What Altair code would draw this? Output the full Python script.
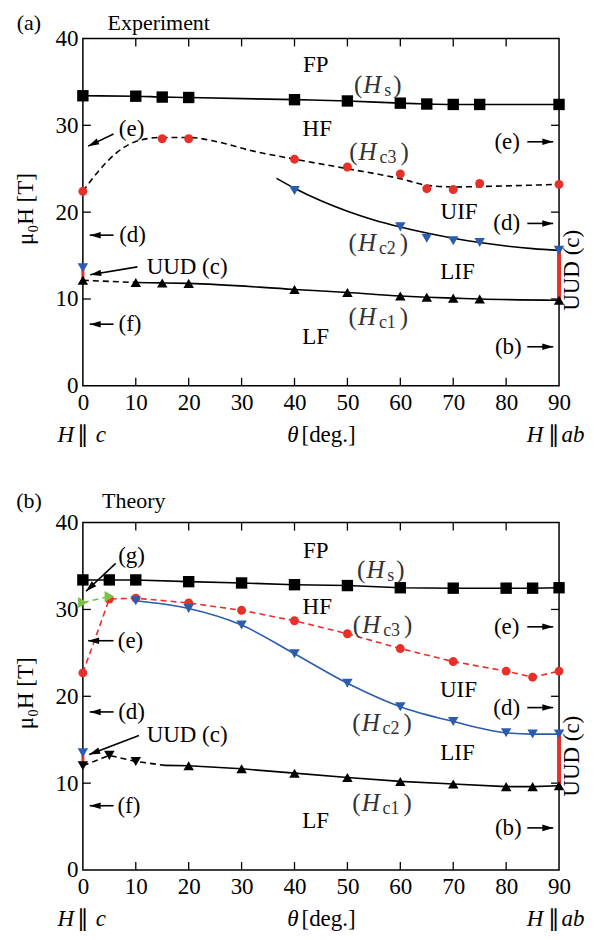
import math
import altair as alt
import pandas as pd

W, HGT = 477, 348
FONT = "Liberation Serif"
FS = 23
RED = "#e8302a"
BLUE = "#2b5caf"
GREEN = "#7cc04a"

# ---------------- data: panel (a) Experiment ----------------
a_hs_t = [0, 10, 15, 20, 40, 50, 60, 65, 70, 75, 90]
a_hs_h = [33.4, 33.35, 33.25, 33.2, 32.95, 32.8, 32.55, 32.45, 32.4, 32.4, 32.4]
a_hc3_t = [0, 15, 20, 40, 50, 60, 65, 70, 75, 90]
a_hc3_h = [22.4, 28.45, 28.45, 26.1, 25.2, 24.4, 22.7, 22.6, 23.3, 23.2]
a_hc3fit_t = [0, 2.8, 6.5, 10.9, 15, 20, 25.4, 31.7, 40, 50, 60, 65, 70, 75, 90]
a_hc3fit_h = [22.4, 24.6, 26.9, 28.3, 28.6, 28.6, 28.1, 27.1, 26.1, 25.0, 23.85, 23.1, 22.9, 22.95, 23.2]
a_hc2_t = [40, 60, 65, 70, 75, 90]
a_hc2_h = [22.5, 18.3, 17.0, 16.7, 16.5, 15.6]
a_hc2fit_t = [36.6, 40, 45, 50, 55, 60, 65, 70, 75, 80, 85, 90]
a_hc2fit_h = [23.9, 22.75, 21.3, 20.1, 19.1, 18.3, 17.6, 17.0, 16.5, 16.1, 15.8, 15.6]
a_hc1_t = [0, 10, 15, 20, 40, 50, 60, 65, 70, 75, 90]
a_hc1_h = [12.15, 11.9, 11.85, 11.8, 11.1, 10.75, 10.35, 10.2, 10.1, 10.0, 9.85]
a_uud0 = [12.15, 13.6]
a_uud90 = [9.85, 15.6]

# ---------------- data: panel (b) Theory ----------------
b_hs_t = [0, 5, 10, 20, 30, 40, 50, 60, 70, 80, 85, 90]
b_hs_h = [33.4, 33.4, 33.4, 33.2, 33.05, 32.85, 32.75, 32.5, 32.45, 32.45, 32.45, 32.5]
b_hc3_t = [0, 5, 10, 20, 30, 40, 50, 60, 70, 80, 85, 90]
b_hc3_h = [22.7, 31.2, 31.3, 30.75, 29.9, 28.7, 27.2, 25.5, 24.0, 22.9, 22.2, 22.9]
b_hc2_t = [10, 20, 30, 40, 50, 60, 70, 80, 85, 90]
b_hc2_h = [31.0, 30.1, 28.2, 24.9, 21.5, 18.8, 17.1, 15.8, 15.65, 15.65]
b_hc1_t = [20, 30, 40, 50, 60, 70, 80, 85, 90]
b_hc1_h = [12.0, 11.65, 11.15, 10.65, 10.2, 9.9, 9.6, 9.6, 9.7]
b_hc1line_t = [15.5, 20, 30, 40, 50, 60, 70, 80, 85, 90]
b_hc1line_h = [12.05, 12.0, 11.65, 11.15, 10.65, 10.2, 9.9, 9.6, 9.6, 9.7]
b_low_t = [0, 5, 10]
b_low_h = [12.0, 13.2, 12.5]
b_lowline_t = [0, 5, 10, 15.5]
b_lowline_h = [12.0, 13.2, 12.5, 12.05]
b_green_t = [0, 5]
b_green_h = [30.8, 31.5]
b_uud0 = [12.0, 13.5]
b_uud90 = [9.7, 15.65]

x_ticks = [0, 10, 20, 30, 40, 50, 60, 70, 80, 90]
y_ticks = [0, 10, 20, 30, 40]


def X(field="t"):
    return alt.X(f"{field}:Q", scale=alt.Scale(domain=[0, 90], nice=False, zero=False),
                 axis=alt.Axis(values=x_ticks, ticks=False, domain=False, grid=False,
                               labelFont=FONT, labelFontSize=FS, labelPadding=6,
                               labelColor="black", title=None, labelFlush=False))


def Y(field="h"):
    return alt.Y(f"{field}:Q", scale=alt.Scale(domain=[0, 40], nice=False, zero=False),
                 axis=alt.Axis(values=y_ticks, ticks=False, domain=False, grid=False,
                               labelFont=FONT, labelFontSize=FS, labelPadding=5,
                               labelColor="black", title=None, labelFlush=False))


def df(t, h):
    return pd.DataFrame({"t": t, "h": h})


def line(t, h, color="black", dash=None, interp="monotone", sw=1.6):
    kw = dict(color=color, strokeWidth=sw, interpolate=interp)
    if dash:
        kw["strokeDash"] = dash
    return alt.Chart(df(t, h)).mark_line(**kw).encode(x=X(), y=Y())


def pts(t, h, shape, color, size=110):
    return alt.Chart(df(t, h)).mark_point(shape=shape, filled=True, size=size, color=color,
                                          opacity=1, strokeWidth=0).encode(x=X(), y=Y())


def vseg(t, h1, h2, color=RED, sw=4):
    d = pd.DataFrame({"t": [t], "h": [h1], "h2": [h2]})
    return alt.Chart(d).mark_rule(color=color, strokeWidth=sw).encode(x=X(), y=Y(), y2="h2:Q")


def frame_ticks():
    inner = [10, 20, 30, 40, 50, 60, 70, 80]
    yin = [10, 20, 30]
    dx = pd.DataFrame({"t": inner})
    dy = pd.DataFrame({"h": yin})
    r = dict(color="black", strokeWidth=1.3)
    return [
        alt.Chart(dx).mark_rule(**r).encode(x=X(), y=alt.value(HGT), y2=alt.value(HGT - 8)),
        alt.Chart(dx).mark_rule(**r).encode(x=X(), y=alt.value(0), y2=alt.value(8)),
        alt.Chart(dy).mark_rule(**r).encode(y=Y(), x=alt.value(0), x2=alt.value(8)),
        alt.Chart(dy).mark_rule(**r).encode(y=Y(), x=alt.value(W), x2=alt.value(W - 8)),
    ]


def texts(rows, size=FS, style="normal", align="center", baseline="middle", dx=0, dy=0, color="black", angle=0):
    d = pd.DataFrame(rows, columns=["t", "h", "text"])
    kw = dict(font=FONT, fontSize=size, fontStyle=style, align=align, baseline=baseline,
              dx=dx, dy=dy, color=color)
    if angle:
        kw["angle"] = angle
    return alt.Chart(d).mark_text(**kw).encode(x=X(), y=Y(), text="text:N")


def math_labels(rows):
    # rows: (t, h, sub); anchor = right edge of "("
    d = pd.DataFrame(rows, columns=["t", "h", "sub"])
    d["kind"] = ["s" if s == "s" else "c" for s in d["sub"]]
    base = alt.Chart(d)
    grey = "#333333"
    return [
        base.mark_text(font=FONT, fontSize=25, align="right", baseline="middle", color=grey, text="(")
            .encode(x=X(), y=Y()),
        base.mark_text(font=FONT, fontSize=25, fontStyle="italic", align="left", baseline="middle",
                       dx=1, color=grey, text="H").encode(x=X(), y=Y()),
        base.mark_text(font=FONT, fontSize=18, align="left", baseline="middle", dx=22, dy=6, color=grey)
            .encode(x=X(), y=Y(), text="sub:N"),
        base.transform_filter("datum.kind == 's'").mark_text(font=FONT, fontSize=25, align="left",
                       baseline="middle", dx=31, color=grey, text=")").encode(x=X(), y=Y()),
        base.transform_filter("datum.kind == 'c'").mark_text(font=FONT, fontSize=25, align="left",
                       baseline="middle", dx=43, color=grey, text=")").encode(x=X(), y=Y()),
    ]


def arrows(rows):
    recs = []
    for (t1, h1, t2, h2) in rows:
        dxp = (t2 - t1) * W / 90.0
        dyp = -(h2 - h1) * HGT / 40.0
        ang = math.degrees(math.atan2(dyp, dxp)) % 360
        recs.append({"t": t1, "h": h1, "t2": t2, "h2": h2, "ang": ang})
    d = pd.DataFrame(recs)
    shaft = alt.Chart(d).mark_rule(color="black", strokeWidth=1.6).encode(
        x=X(), y=Y(), x2="t2:Q", y2="h2:Q")
    head = alt.Chart(d).mark_point(shape="M0,0L-1,-0.3L-1,0.3Z", filled=True, size=480,
                                   color="black", opacity=1, strokeWidth=0).encode(
        x=X("t2"), y=Y("h2"), angle=alt.Angle("ang:Q", scale=None))
    return [shaft, head]


def fixed_text(x, y, s, size=FS, style="normal", align="center", baseline="middle", angle=0):
    kw = dict(font=FONT, fontSize=size, fontStyle=style, align=align, baseline=baseline,
              color="black", text=s)
    if angle:
        kw["angle"] = angle
    return alt.Chart(pd.DataFrame({"a": [0]})).mark_text(**kw).encode(x=alt.value(x), y=alt.value(y))


def common_frame(tag, title, title_x, title_y):
    yb = HGT + 49
    return [
        fixed_text(-54, title_y, tag, size=22, baseline="alphabetic"),
        fixed_text(title_x, title_y, title, size=22, baseline="alphabetic"),
        fixed_text(-57, 171, "μ₀H [T]", angle=270),
        fixed_text(-17, yb, "H", style="italic"),
        fixed_text(0.5, yb, "∥"),
        fixed_text(18, yb, "c", style="italic"),
        fixed_text(210.5, yb, "θ", style="italic"),
        fixed_text(219, yb, "[deg.]", align="left"),
        fixed_text(453, yb, "H", style="italic"),
        fixed_text(472, yb, "∥"),
        fixed_text(491, yb, "ab", style="italic"),
    ]


# layout anchor: fixes the top-left corner of the whole drawing
anchor = alt.Chart(pd.DataFrame({"a": [0]})).mark_point(
    size=4, filled=True, color="white", opacity=0.01, strokeWidth=0).encode(
    x=alt.value(-90), y=alt.value(-50))

# ---------------- panel (a) ----------------
la = [anchor]
la += frame_ticks()
la.append(line(a_hs_t, a_hs_h))
la.append(line(a_hc3fit_t, a_hc3fit_h, dash=[6, 4]))
la.append(line(a_hc2fit_t, a_hc2fit_h))
la.append(line(a_hc1_t[:2], a_hc1_h[:2], dash=[6, 4], interp="linear"))
la.append(line(a_hc1_t[1:], a_hc1_h[1:]))
la.append(vseg(0, a_uud0[0], a_uud0[1], sw=3))
la.append(vseg(90, a_uud90[0], a_uud90[1]))
la.append(pts(a_hs_t, a_hs_h, "square", "black", 130))
la.append(alt.Chart(df(a_hc3_t, a_hc3_h)).mark_circle(size=80, color=RED, opacity=1).encode(x=X(), y=Y()))
la.append(pts(a_hc2_t, a_hc2_h, "triangle-down", BLUE, 110))
la.append(pts([0], [a_uud0[1]], "triangle-down", BLUE, 110))
la.append(pts(a_hc1_t, a_hc1_h, "triangle-up", "black", 110))
la.append(texts([(44, 36.9, "FP"), (44.3, 29.6, "HF"), (71.1, 20.0, "UIF"), (70.8, 13.1, "LIF"),
                 (44, 5.6, "LF"), (80.2, 28.1, "(e)"), (80.1, 18.7, "(d)"), (80.4, 4.5, "(b)"),
                 (9.2, 29.6, "(e)"), (9.4, 17.35, "(d)"), (19.7, 13.7, "UUD (c)"), (8.9, 7.1, "(f)")]))
la.append(texts([(92.4, 13.3, "UUD (c)")], angle=270))
la += math_labels([(52.8, 34.6, "s"), (51.9, 26.9, "c3"), (51.8, 16.4, "c2"), (51.8, 7.9, "c1")])
la += arrows([(5.8, 29.0, 1.0, 27.6), (5.8, 17.35, 1.3, 17.35), (10.3, 13.7, 1.4, 12.8),
              (5.8, 7.1, 1.3, 7.1), (84, 28.1, 88.9, 28.1), (84, 18.7, 88.9, 18.7), (84, 4.5, 88.9, 4.5)])
la += common_frame("(a)", "Experiment", 76, -8.5)
panel_a = alt.layer(*la).properties(width=W, height=HGT)

# ---------------- panel (b) ----------------
lb = []
lb += frame_ticks()
lb.append(line(b_hs_t, b_hs_h, interp="linear"))
lb.append(line(b_hc3_t, b_hc3_h, color=RED, dash=[6, 4], interp="linear"))
lb.append(line(b_hc2_t, b_hc2_h, color=BLUE, interp="monotone"))
lb.append(line(b_lowline_t, b_lowline_h, dash=[6, 4], interp="linear"))
lb.append(line(b_hc1line_t, b_hc1line_h, interp="linear"))
lb.append(line(b_green_t, b_green_h, color=GREEN, dash=[6, 4], interp="linear"))
lb.append(vseg(0, b_uud0[0], b_uud0[1], sw=3))
lb.append(vseg(90, b_uud90[0], b_uud90[1]))
lb.append(pts(b_hs_t, b_hs_h, "square", "black", 130))
lb.append(alt.Chart(df(b_hc3_t, b_hc3_h)).mark_circle(size=80, color=RED, opacity=1).encode(x=X(), y=Y()))
lb.append(pts(b_green_t, b_green_h, "triangle-right", GREEN, 120))
lb.append(pts(b_hc2_t, b_hc2_h, "triangle-down", BLUE, 110))
lb.append(pts([0], [b_uud0[1]], "triangle-down", BLUE, 110))
lb.append(pts(b_hc1_t, b_hc1_h, "triangle-up", "black", 110))
lb.append(pts(b_low_t, b_low_h, "triangle-down", "black", 110))
lb.append(texts([(44, 36.75, "FP"), (44.3, 30.3, "HF"), (71, 20.7, "UIF"), (70.8, 13.45, "LIF"),
                 (44, 5.6, "LF"), (80.1, 28.0, "(e)"), (80.1, 18.7, "(d)"), (80.4, 4.85, "(b)"),
                 (9.2, 36.2, "(g)"), (9.0, 26.4, "(e)"), (9.2, 18.2, "(d)"), (19.7, 15.55, "UUD (c)"),
                 (8.7, 7.4, "(f)")]))
lb.append(texts([(92.4, 13.1, "UUD (c)")], angle=270))
lb += math_labels([(53.4, 34.5, "s"), (52.6, 28.2, "c3"), (52.5, 16.9, "c2"), (52.5, 7.7, "c1")])
lb += arrows([(6.2, 35.3, 0.6, 32.1), (5.8, 26.4, 1.0, 26.4), (5.8, 18.2, 1.3, 18.2),
              (10.6, 15.5, 1.2, 13.3), (5.8, 7.4, 1.3, 7.4), (84, 28.0, 88.9, 28.0),
              (84, 18.7, 88.9, 18.7), (84, 4.85, 88.9, 4.85)])
lb += common_frame("(b)", "Theory", 51, -15)
panel_b = alt.layer(*lb).properties(width=W, height=HGT)

chart = alt.vconcat(panel_a, panel_b, spacing=137, bounds="flush").configure_view(
    stroke="black", strokeWidth=1.5).properties(
    padding={"left": -17, "top": -22.3, "right": 0, "bottom": 0})

chart.save("out.html", embed_options={"renderer": "svg", "actions": False})
